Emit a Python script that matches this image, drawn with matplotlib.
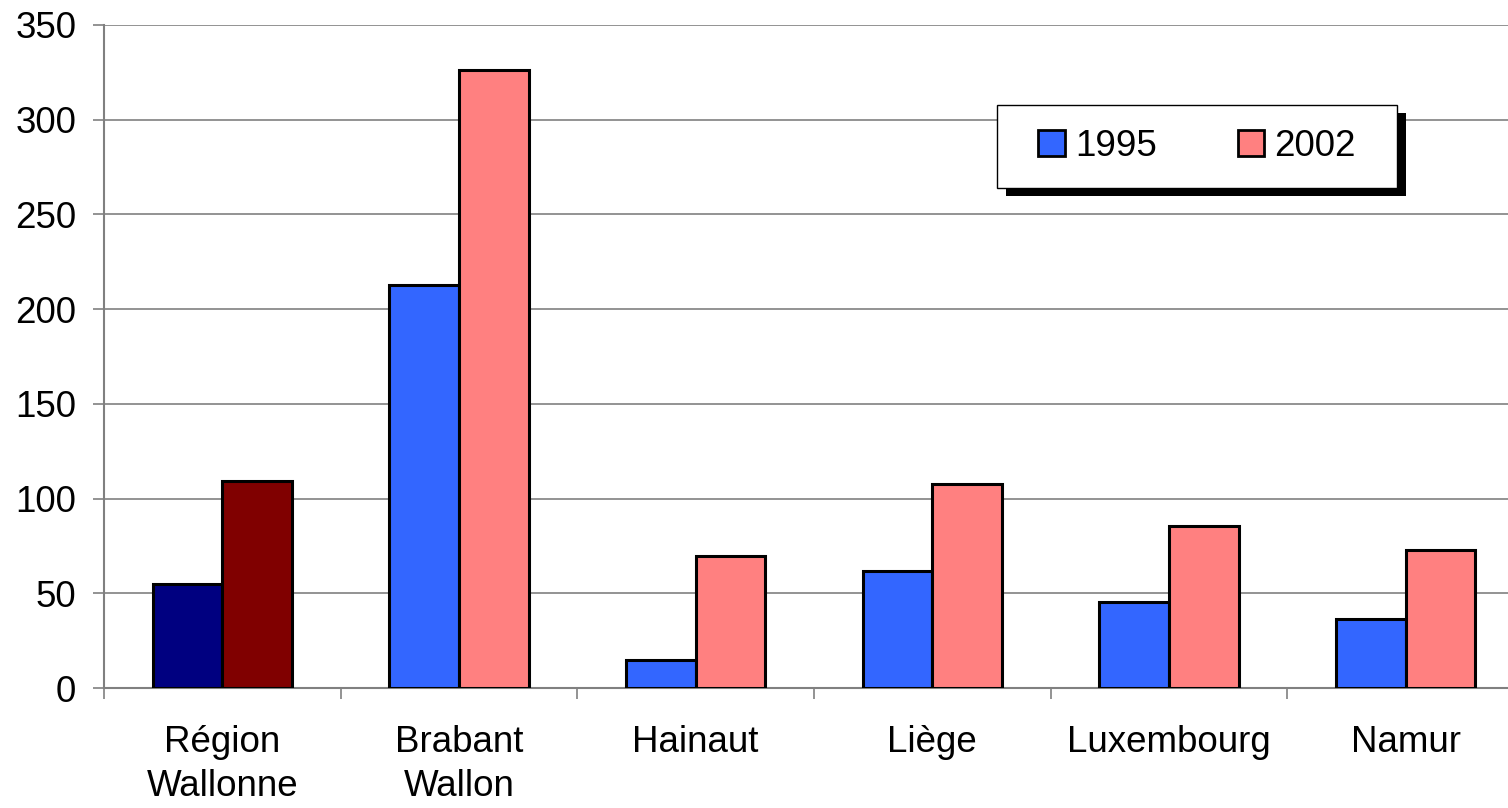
import matplotlib.pyplot as plt
from matplotlib.patches import Rectangle, Patch
import numpy as np

plt.rcParams['font.family'] = ['Liberation Sans', 'DejaVu Sans']

# données
categories = ['Région\nWallonne', 'Brabant\nWallon', 'Hainaut', 'Liège', 'Luxembourg', 'Namur']
values_1995 = [55, 213, 15, 62, 45.5, 36.5]
values_2002 = [109.5, 326, 69.5, 107.5, 85.5, 73]
series_labels = ['1995', '2002']

col_1995 = '#3366FF'
col_2002 = '#FF8080'
# la première catégorie (total régional) a ses propres couleurs
col_1995_first = '#000080'
col_2002_first = '#800000'

fig = plt.figure(figsize=(15.08, 8.08), dpi=100)
ax = fig.add_axes([104 / 1508, 1 - 688 / 808, 1420 / 1508, 663 / 808])

x = np.arange(len(categories))
w = 0.295
c1 = [col_1995_first] + [col_1995] * (len(categories) - 1)
c2 = [col_2002_first] + [col_2002] * (len(categories) - 1)
ax.bar(x - w / 2, values_1995, w, color=c1, edgecolor='black', linewidth=2.2, zorder=3)
ax.bar(x + w / 2, values_2002, w, color=c2, edgecolor='black', linewidth=2.2, zorder=3)

ax.set_xlim(-0.5, len(categories) - 0.5)
ax.set_ylim(0, 350)
ax.set_yticks(np.arange(0, 351, 50))
ax.yaxis.grid(True, color='#808080', linewidth=1.2, zorder=0)

# ticks x aux limites des catégories, labels centrés
ax.set_xticks(np.arange(len(categories) + 1) - 0.5)
ax.set_xticklabels([])
ax.set_xticks(x, minor=True)
ax.set_xticklabels(categories, minor=True, fontsize=26.5, linespacing=1.3)
ax.tick_params(axis='x', which='minor', length=0, pad=27)
ax.tick_params(axis='x', which='major', length=8, width=1.2, color='#808080')
ax.tick_params(axis='y', length=8, width=1.2, color='#808080', pad=12, labelsize=26.5)

for s in ['top', 'right']:
    ax.spines[s].set_visible(False)
for s in ['left', 'bottom']:
    ax.spines[s].set_color('#808080')
    ax.spines[s].set_linewidth(1.5)

# cadre de légende avec ombre noire
bx0, bx1, by0, by1 = 997, 1397, 105, 188
ax.add_patch(Rectangle(((bx0 + 9) / 1508, 1 - (by1 + 8) / 808), (bx1 - bx0) / 1508, (by1 - by0) / 808,
                       transform=fig.transFigure, facecolor='black', edgecolor='none',
                       zorder=5, clip_on=False))
ax.add_patch(Rectangle((bx0 / 1508, 1 - by1 / 808), (bx1 - bx0) / 1508, (by1 - by0) / 808,
                       transform=fig.transFigure, facecolor='white', edgecolor='black',
                       linewidth=1, zorder=5.5, clip_on=False))

handles = [Patch(facecolor=col_1995, edgecolor='black', linewidth=2),
           Patch(facecolor=col_2002, edgecolor='black', linewidth=2)]
leg = ax.legend(handles, series_labels, loc='center',
                bbox_to_anchor=((bx0 + bx1) / 2 / 1508, 1 - (by0 + by1) / 2 / 808),
                bbox_transform=fig.transFigure, borderaxespad=0, ncol=2, fontsize=26.5,
                frameon=False, handlelength=0.72, handleheight=0.72, handletextpad=0.27,
                columnspacing=2.2, borderpad=0)
leg.set_zorder(6)

fig.savefig('out.png', dpi=100)
